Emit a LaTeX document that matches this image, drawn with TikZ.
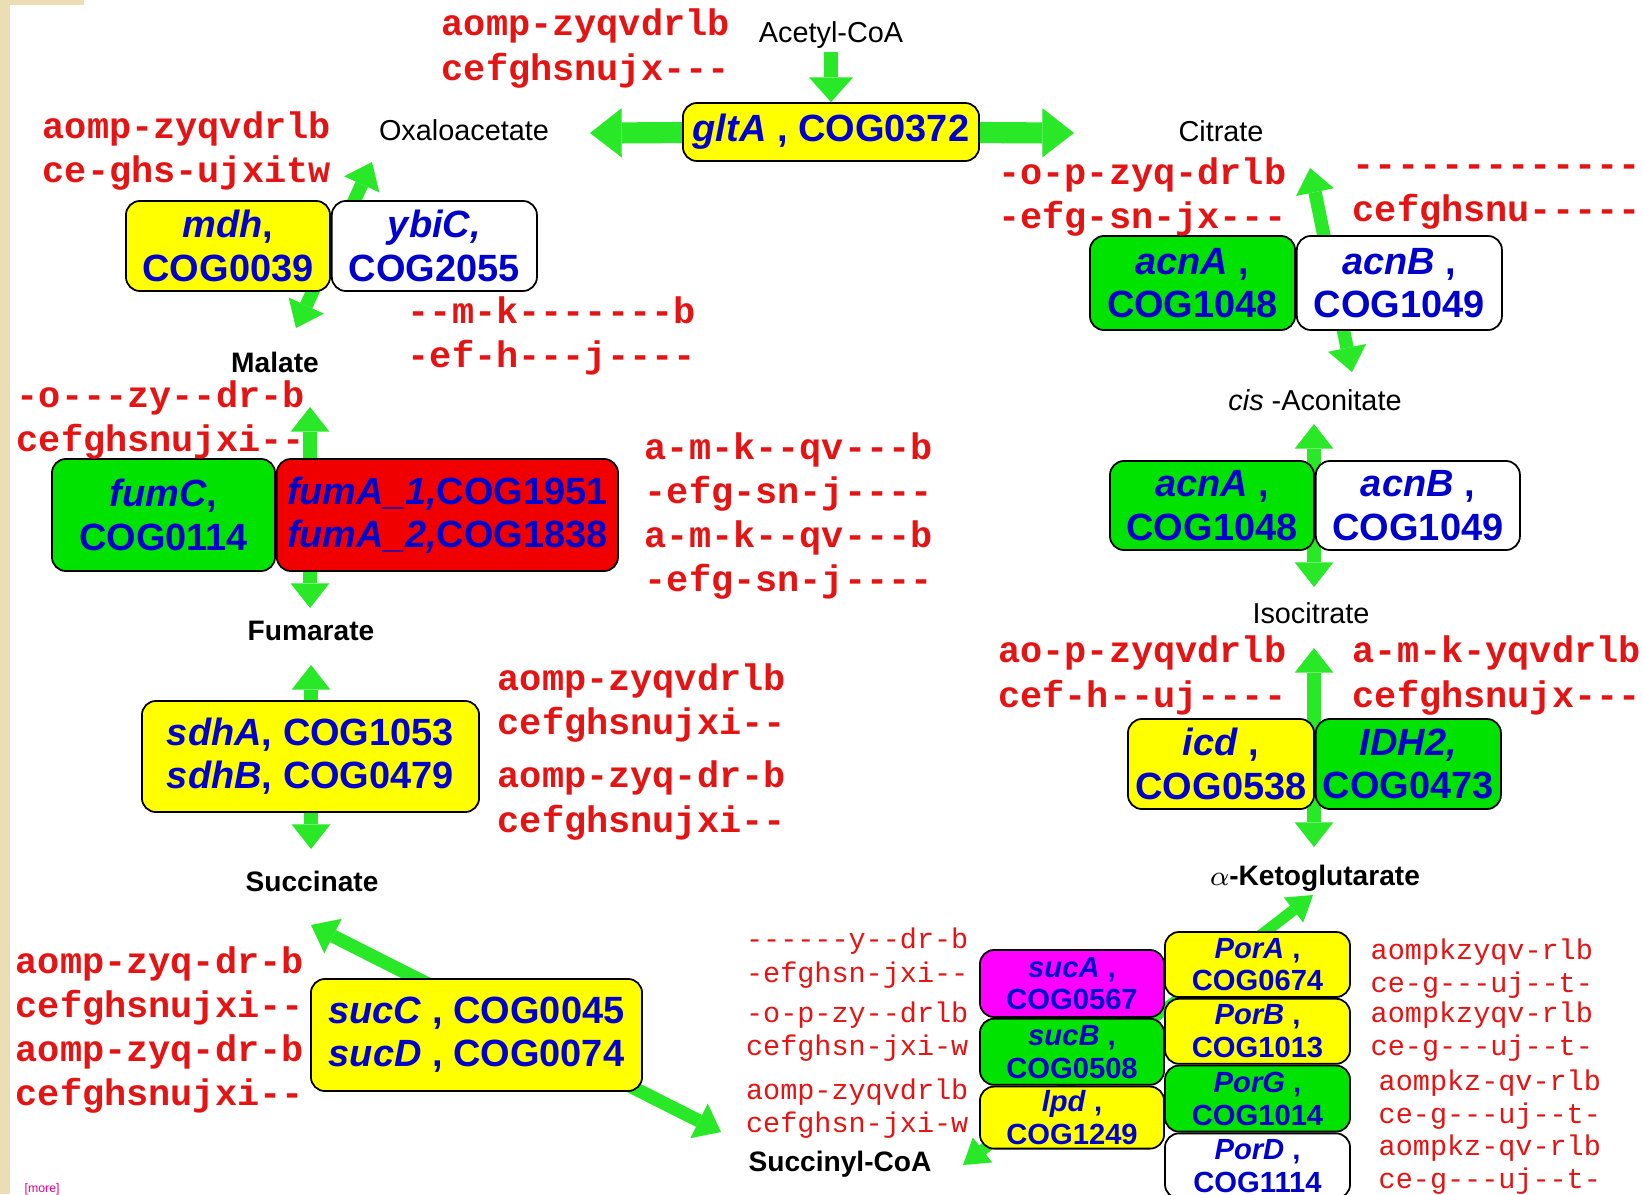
\documentclass[tikz,border=0pt]{standalone}
\usepackage{fontspec}
\setmainfont{Liberation Sans}
\setmonofont{Liberation Mono}
\usetikzlibrary{arrows.meta,positioning,backgrounds}

\definecolor{arrowgreen}{RGB}{40,232,40}
\definecolor{boxgreen}{RGB}{0,226,0}
\definecolor{boxyellow}{RGB}{255,255,0}
\definecolor{boxred}{RGB}{240,0,0}
\definecolor{boxmagenta}{RGB}{255,0,255}
\definecolor{geneblue}{RGB}{0,0,205}
\definecolor{strainred}{RGB}{228,20,20}
\definecolor{pagebeige}{RGB}{236,222,180}

\newcommand{\genebig}{\fontsize{10.8}{12.3}\selectfont\bfseries}
\newcommand{\genesmall}{\fontsize{8.3}{9.3}\selectfont\bfseries}
\newcommand{\strainbig}{\fontsize{10.5}{12.6}\selectfont\ttfamily\bfseries}
\newcommand{\strainsmall}{\fontsize{8.1}{9.6}\selectfont\ttfamily}

\tikzset{
  metab/.style={font=\fontsize{8.2}{10}\selectfont, inner sep=1pt,
                text height=6.2pt, text depth=1.5pt},
  metabb/.style={metab, font=\fontsize{8}{10}\selectfont\bfseries},
  gene/.style={rectangle, rounded corners=4pt, draw=black, line width=0.5pt,
               inner sep=0pt, align=center, text=geneblue, font=\genebig},
  genesm/.style={gene, font=\genesmall},
  strain/.style={text=strainred, font=\strainbig, inner sep=0pt},
  strainsm/.style={strain, font=\strainsmall},
  flow/.style={draw=arrowgreen, line width=3.8pt,
    {Triangle[width=11pt,length=7pt,line width=0pt]}-{Triangle[width=11pt,length=7pt,line width=0pt]}},
  thinflow/.style={draw=arrowgreen, line width=3.2pt,
    {Triangle[width=9pt,length=7pt,line width=0pt]}-{Triangle[width=9pt,length=7pt,line width=0pt]}},
  inflow/.style={draw=arrowgreen, line width=4.2pt,
    -{Triangle[width=12.5pt,length=7pt,line width=0pt]}},
  bigflow/.style={draw=arrowgreen, line width=6pt,
    -{Triangle[width=14pt,length=9pt,line width=0pt]}},
}

\begin{document}
\begin{tikzpicture}[x=0.01cm,y=-0.01cm]
  \useasboundingbox (0,0) rectangle (1643,1194);

  % metabolites
  \node[metab] (acetyl) at (831,34) {Acetyl-CoA};
  \node[metab] (oaa) at (464,132) {Oxaloacetate};
  \node[metab] (citrate) at (1221,133) {Citrate};
  \node[metabb] (malate) at (275,364) {Malate};
  \node[metabb] (fumarate) at (311,632) {Fumarate};
  \node[metabb] (succinate) at (312,883) {Succinate};
  \node[metab] (cisacon) at (1315,402) {\textit{cis} -Aconitate};
  \node[metab] (isocit) at (1311,615) {Isocitrate};
  \node[metabb] (akg) at (1315,877) {$\alpha$-Ketoglutarate};
  \node[metabb] (succoa) at (840,1163) {Succinyl-CoA};

  % enzymes, left half of the cycle
  \node[gene, fill=boxyellow, minimum width=2.96cm, minimum height=0.58cm] (gltA)
       at (831,132) {\textit{gltA} , COG0372};
  \node[gene, fill=boxyellow, minimum width=2.04cm, minimum height=0.9cm] (mdh)
       at (228,246) {\textit{mdh},\\COG0039};
  \node[gene, fill=white, minimum width=2.05cm, minimum height=0.9cm] (ybiC)
       [right=0pt of mdh] {\textit{ybiC,}\\COG2055};
  \node[gene, fill=boxgreen, minimum width=2.23cm, minimum height=1.12cm] (fumC)
       at (163.5,515) {\textit{fumC},\\COG0114};
  \node[gene, fill=boxred, minimum width=3.41cm, minimum height=1.12cm] (fumA)
       [right=0pt of fumC] {\textit{fumA\_1,}COG1951\\\textit{fumA\_2,}COG1838};
  \node[gene, fill=boxyellow, minimum width=3.37cm, minimum height=1.11cm] (sdh)
       at (310.5,756.5) {\textit{sdhA}, COG1053\\\textit{sdhB}, COG0479};
  \node[gene, fill=boxyellow, minimum width=3.31cm, minimum height=1.12cm] (sucCD)
       at (476.5,1035) {\textit{sucC} , COG0045\\\textit{sucD} , COG0074};

  % enzymes, right half of the cycle
  \node[gene, fill=boxgreen, minimum width=2.05cm, minimum height=0.94cm] (acnA)
       at (1192.5,283) {\textit{acnA} ,\\COG1048};
  \node[gene, fill=white, minimum width=2.05cm, minimum height=0.94cm] (acnB)
       [right=0pt of acnA] {\textit{acnB} ,\\COG1049};
  \node[gene, fill=boxgreen, minimum width=2.04cm, minimum height=0.89cm] (acnA2)
       at (1212,505.5) {\textit{acnA} ,\\COG1048};
  \node[gene, fill=white, minimum width=2.04cm, minimum height=0.89cm] (acnB2)
       [right=0pt of acnA2] {\textit{acnB} ,\\COG1049};
  \node[gene, fill=boxyellow, minimum width=1.86cm, minimum height=0.9cm] (icd)
       at (1221,764) {\textit{icd} ,\\COG0538};
  \node[gene, fill=boxgreen, minimum width=1.85cm, minimum height=0.9cm] (idh)
       [right=0pt of icd] {\textit{IDH2,}\\COG0473};

  % 2-oxoglutarate dehydrogenase / oxidoreductase subunits
  \node[genesm, fill=boxmagenta, minimum width=1.84cm, minimum height=0.67cm] (sucA)
       at (1072,983.5) {\textit{sucA} ,\\COG0567};
  \node[genesm, fill=boxgreen, minimum width=1.84cm, minimum height=0.66cm] (sucB)
       [below=0pt of sucA] {\textit{sucB} ,\\COG0508};
  \node[genesm, fill=boxyellow, minimum width=1.84cm, minimum height=0.62cm] (lpd)
       [below=0pt of sucB] {\textit{lpd} ,\\COG1249};
  \node[genesm, fill=boxyellow, minimum width=1.85cm, minimum height=0.65cm] (porA)
       at (1257.5,964.5) {\textit{PorA} ,\\COG0674};
  \node[genesm, fill=boxyellow, minimum width=1.85cm, minimum height=0.65cm] (porB)
       [below=0pt of porA] {\textit{PorB} ,\\COG1013};
  \node[genesm, fill=boxgreen, minimum width=1.85cm, minimum height=0.66cm] (porG)
       [below=0pt of porB] {\textit{PorG} ,\\COG1014};
  \node[genesm, fill=white, minimum width=1.85cm, minimum height=0.65cm] (porD)
       [below=0pt of porG] {\textit{PorD} ,\\COG1114};

  % strain patterns
  \node[strain, anchor=west, align=left] (pgltA) at (441,48.5) {aomp-zyqvdrlb\\cefghsnujx---};
  \node[strain, anchor=west, align=left] (pmdh) at (42,151) {aomp-zyqvdrlb\\ce-ghs-ujxitw};
  \node[strain, anchor=west, align=left] (pybiC) at (407,336) {--m-k-------b\\-ef-h---j----};
  \node[strain, anchor=west, align=left] (pfumC) at (16,420) {-o---zy--dr-b\\cefghsnujxi--};
  \node[strain, anchor=west, align=left] (pfumA) at (644,516)
       {a-m-k--qv---b\\-efg-sn-j----\\a-m-k--qv---b\\-efg-sn-j----};
  \node[strain, anchor=west, align=left] (psdhA) at (497,703) {aomp-zyqvdrlb\\cefghsnujxi--};
  \node[strain, anchor=west, align=left] (psdhB) at (497,800.5) {aomp-zyq-dr-b\\cefghsnujxi--};
  \node[strain, anchor=west, align=left] (psucCD) at (15,1030)
       {aomp-zyq-dr-b\\cefghsnujxi--\\aomp-zyq-dr-b\\cefghsnujxi--};
  \node[strain, anchor=east, align=left] (pacnA) at (1287,197) {-o-p-zyq-drlb\\-efg-sn-jx---};
  \node[strain, anchor=west, align=left] (pacnB) at (1352,197) {-------------\\cefghsnu-----};
  \node[strain, anchor=east, align=left] (picd) at (1287,675.5) {ao-p-zyqvdrlb\\cef-h--uj----};
  \node[strain, anchor=west, align=left] (pidh) at (1352,675.5) {a-m-k-yqvdrlb\\cefghsnujx---};
  \node[strainsm, anchor=east, align=left] (psucA) at (969,958) {------y--dr-b\\-efghsn-jxi--};
  \node[strainsm, anchor=east, align=left] (psucB) at (969,1031.5) {-o-p-zy--drlb\\cefghsn-jxi-w};
  \node[strainsm, anchor=east, align=left] (plpd) at (969,1108.5) {aomp-zyqvdrlb\\cefghsn-jxi-w};
  \node[strainsm, anchor=west, align=left] (pporA) at (1370,968.5) {aompkzyqv-rlb\\ce-g---uj--t-};
  \node[strainsm, anchor=west, align=left] (pporB) at (1370,1031.5) {aompkzyqv-rlb\\ce-g---uj--t-};
  \node[strainsm, anchor=west, align=left] (pporG) at (1378,1099.5) {aompkz-qv-rlb\\ce-g---uj--t-};
  \node[strainsm, anchor=west, align=left] (pporD) at (1378,1164.5) {aompkz-qv-rlb\\ce-g---uj--t-};

  \node[font=\fontsize{3.5}{4}\selectfont, text=magenta, anchor=west, inner sep=0pt] (more)
       at (24,1189) {[more]};

  % arrow tips
  \coordinate (oaaTip) at (590,133);
  \coordinate (citTip) at (1074,133);
  \coordinate (mdhUp) at (372,162);
  \coordinate (mdhDown) at (296,328);
  \coordinate (fumUp) at (310,407);
  \coordinate (fumDown) at (310,608);
  \coordinate (sdhUp) at (311,665);
  \coordinate (sdhDown) at (311,849);
  \coordinate (sucUp) at (311,925);
  \coordinate (sucDown) at (721,1132);
  \coordinate (acnUp) at (1310,168);
  \coordinate (acnDown) at (1352,372);
  \coordinate (acn2Up) at (1314,424);
  \coordinate (acn2Down) at (1314,587);
  \coordinate (icdUp) at (1314,648);
  \coordinate (icdDown) at (1314,847);
  \coordinate (akgTip) at (1313,895);
  \coordinate (scoaTip) at (963,1165);

  \begin{scope}[on background layer]
    \fill[white] (0,0) rectangle (1643,1194);
    \fill[pagebeige] (0,0) rectangle (10,1194);
    \fill[pagebeige] (0,0) rectangle (84,5);

    \draw[inflow] (acetyl) -- (gltA);
    \draw[bigflow] (gltA) -- (oaaTip);
    \draw[bigflow] (gltA) -- (citTip);
    \draw[flow] (mdhUp) -- (mdhDown);
    \draw[flow] (fumUp) -- (fumDown);
    \draw[flow] (sdhUp) -- (sdhDown);
    \draw[flow] (sucUp) -- (sucDown);
    \draw[flow] (acnUp) -- (acnDown);
    \draw[flow] (acn2Up) -- (acn2Down);
    \draw[flow] (icdUp) -- (icdDown);
    \draw[thinflow] (akgTip) -- (scoaTip);
  \end{scope}
\end{tikzpicture}
\end{document}
